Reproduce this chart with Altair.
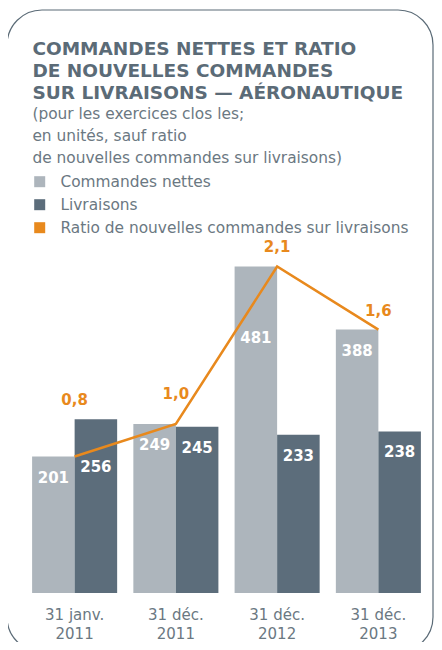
import altair as alt
import pandas as pd

categories = ["31 janv. 2011", "31 déc. 2011", "31 déc. 2012", "31 déc. 2013"]
net_orders = [201, 249, 481, 388]
deliveries = [256, 245, 233, 238]
ratio = [0.8, 1.0, 2.1, 1.6]
series_names = ["Commandes nettes", "Livraisons", "Ratio de nouvelles commandes sur livraisons"]

C_LIGHT = "#adb5bc"
C_DARK = "#5c6d7b"
C_ORANGE = "#e8891d"
C_TITLE = "#5b6b77"
C_TEXT = "#6b7882"
FONT = "DejaVu Sans"

bars_df = pd.DataFrame(
    [{"cat": c, "series": series_names[0], "value": v} for c, v in zip(categories, net_orders)]
    + [{"cat": c, "series": series_names[1], "value": v} for c, v in zip(categories, deliveries)]
)
line_df = pd.DataFrame({"cat": categories, "net": net_orders, "deliv": deliveries, "ratio": ratio})

x = alt.X(
    "cat:N",
    sort=categories,
    title=None,
    scale=alt.Scale(paddingInner=0.16, paddingOuter=0.08),
    axis=alt.Axis(
        labelAngle=0,
        domain=False,
        ticks=False,
        labelFont=FONT,
        labelFontSize=15,
        labelColor=C_TEXT,
        labelPadding=14,
        labelLineHeight=19,
        labelExpr="[slice(datum.label, 0, indexof(datum.label, '.') + 1), slice(datum.label, indexof(datum.label, '.') + 2)]",
    ),
)
xoff = alt.XOffset("series:N", sort=series_names[:2], scale=alt.Scale(paddingInner=0, paddingOuter=0))
yscale = alt.Scale(domain=[0, 520])

bars = alt.Chart(bars_df).mark_bar().encode(
    x=x,
    xOffset=xoff,
    y=alt.Y("value:Q", scale=yscale, axis=None),
    color=alt.Color(
        "series:N",
        scale=alt.Scale(domain=series_names, range=[C_LIGHT, C_DARK, C_ORANGE]),
        legend=alt.Legend(
            title=None,
            orient="none",
            legendX=8,
            legendY=-66,
            direction="vertical",
            symbolType="square",
            symbolSize=121,
            symbolStrokeWidth=0,
            labelFont=FONT,
            labelFontSize=15.4,
            labelColor=C_TEXT,
            labelOffset=13,
            rowPadding=6,
            padding=0,
            labelLimit=400,
        ),
    ),
)

# labels shifted where the ratio line crosses them
LOW_256 = "datum.series == 'Livraisons' && datum.cat == '31 janv. 2011'"
LOW_481 = "datum.series == 'Commandes nettes' && datum.cat == '31 déc. 2012'"

def bar_label_layer(filter_expr, dy):
    return alt.Chart(bars_df).transform_filter(filter_expr).mark_text(
        color="white", font=FONT, fontSize=15, fontWeight=600, baseline="middle", dy=dy
    ).encode(
        x=x,
        xOffset=xoff,
        y=alt.Y("value:Q", scale=yscale, axis=None),
        text="value:Q",
    )

bar_labels = bar_label_layer("!(" + LOW_256 + ") && !(" + LOW_481 + ")", 21)
bar_labels_256 = bar_label_layer(LOW_256, 48)
bar_labels_481 = bar_label_layer(LOW_481, 72)

line = alt.Chart(line_df).mark_line(color=C_ORANGE, strokeWidth=2.5).encode(
    x=x,
    y=alt.Y("net:Q", scale=yscale, axis=None),
)

HIGH_RATIO = "datum.cat == '31 déc. 2011'"

def ratio_label_layer(filter_expr, dy):
    return alt.Chart(line_df).transform_filter(filter_expr).transform_calculate(
        top="max(datum.net, datum.deliv)",
        lbl="replace(format(datum.ratio, '.1f'), '.', ',')",
    ).mark_text(
        color=C_ORANGE, font=FONT, fontSize=15, fontWeight="bold", baseline="middle", dy=dy
    ).encode(
        x=x,
        y=alt.Y("top:Q", scale=yscale, axis=None),
        text="lbl:N",
    )

ratio_labels = ratio_label_layer("!(" + HIGH_RATIO + ")", -19)
ratio_labels_high = ratio_label_layer(HIGH_RATIO, -30)

frame = alt.Chart(pd.DataFrame({"f": [0]})).mark_rect(
    filled=False, stroke=C_TITLE, strokeWidth=1.2, cornerRadius=35
).encode(
    x=alt.value(-17), x2=alt.value(409), y=alt.value(-230), y2=alt.value(412)
)

chart = alt.layer(
    frame, bars, bar_labels, bar_labels_256, bar_labels_481, line, ratio_labels, ratio_labels_high
).properties(
    width=405,
    height=353,
    autosize=alt.AutoSizeParams(type="none"),
    padding={"left": 16, "top": 232, "right": 5, "bottom": 49},
    title=alt.TitleParams(
        text=["COMMANDES NETTES ET RATIO", "DE NOUVELLES COMMANDES", "SUR LIVRAISONS — AÉRONAUTIQUE"],
        subtitle=["(pour les exercices clos les;", "en unités, sauf ratio", "de nouvelles commandes sur livraisons)"],
        anchor="start",
        dx=26,
        font=FONT,
        fontSize=18.5,
        fontWeight="bold",
        color=C_TITLE,
        lineHeight=22,
        subtitleFont=FONT,
        subtitleFontSize=15.4,
        subtitleColor=C_TEXT,
        subtitleLineHeight=22,
        subtitlePadding=4.5,
        offset=-157,
    ),
).configure_view(stroke=None)

chart.save("out.html", embed_options={"renderer": "svg", "actions": False})
